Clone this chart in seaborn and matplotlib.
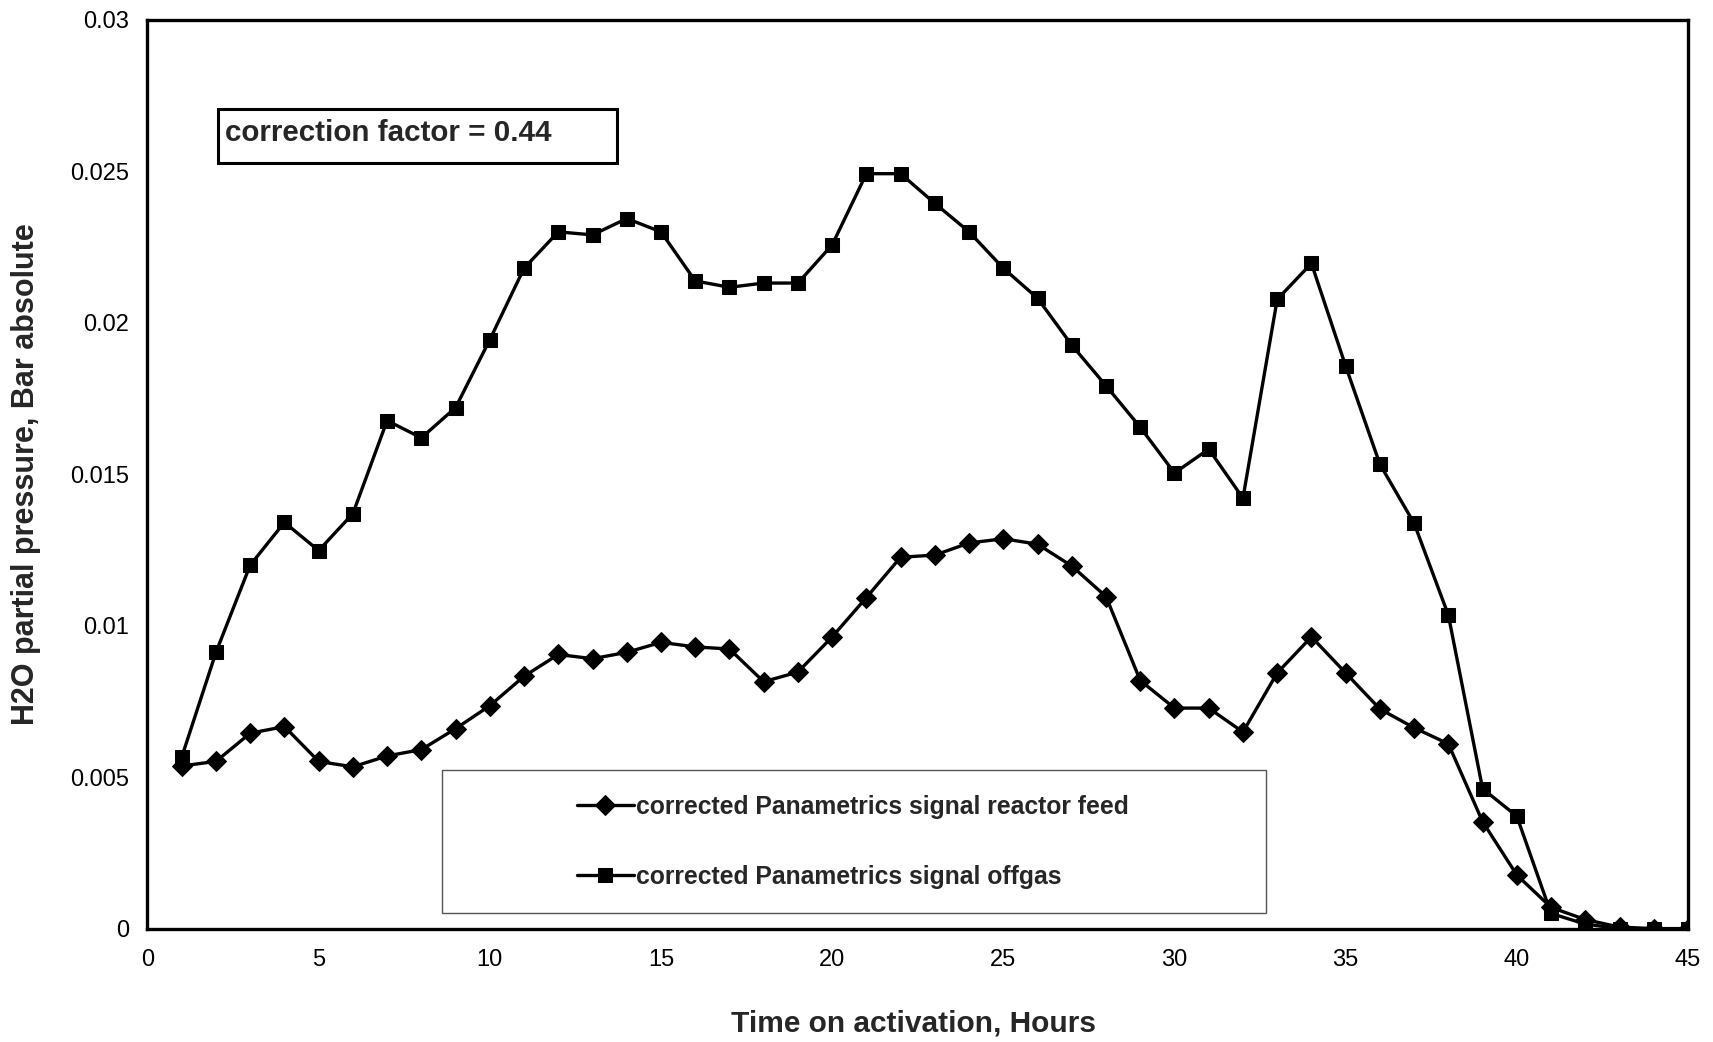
import numpy as np
import pandas as pd
import matplotlib
matplotlib.use("Agg")
import matplotlib.pyplot as plt
from matplotlib.patches import Rectangle
from matplotlib import font_manager as fm
import seaborn as sns

hours = list(range(1, 46))
feed = [0.00537, 0.00552, 0.00645, 0.00667, 0.00552, 0.00534, 0.00570, 0.00591, 0.00660, 0.00736,
        0.00833, 0.00905, 0.00891, 0.00912, 0.00945, 0.00930, 0.00923, 0.00815, 0.00847, 0.00963,
        0.01093, 0.01226, 0.01233, 0.01273, 0.01287, 0.01269, 0.01197, 0.01096, 0.00819, 0.00728,
        0.00728, 0.00649, 0.00844, 0.00963, 0.00844, 0.00725, 0.00663, 0.00610, 0.00353, 0.00177,
        0.00070, 0.00030, 0.00005, 0.00000, 0.00000]
offgas = [0.00566, 0.00912, 0.01200, 0.01341, 0.01248, 0.01370, 0.01677, 0.01620, 0.01720, 0.01944,
          0.02180, 0.02300, 0.02290, 0.02344, 0.02300, 0.02138, 0.02117, 0.02131, 0.02131, 0.02257,
          0.02492, 0.02492, 0.02394, 0.02300, 0.02180, 0.02081, 0.01926, 0.01792, 0.01655, 0.01504,
          0.01583, 0.01421, 0.02077, 0.02196, 0.01857, 0.01533, 0.01338, 0.01035, 0.00462, 0.00371,
          0.00050, 0.00015, 0.00000, 0.00000, 0.00000]
series_names = ["corrected Panametrics signal reactor feed", "corrected Panametrics signal offgas"]
x_ticks = [0, 5, 10, 15, 20, 25, 30, 35, 40, 45]
y_ticks = [0, 0.005, 0.01, 0.015, 0.02, 0.025, 0.03]
y_tick_labels = ["0", "0.005", "0.01", "0.015", "0.02", "0.025", "0.03"]
annotation = "correction factor = 0.44"

sns.set_style("white")
plt.rcParams["font.family"] = ["Liberation Sans", "DejaVu Sans"]

available = {f.name for f in fm.fontManager.ttflist}
if "Liberation Sans Narrow" in available:
    xtick_family, xtick_size = "Liberation Sans Narrow", 21
else:
    xtick_family, xtick_size = "Liberation Sans", 17

fig = plt.figure(figsize=(17.13, 10.42), dpi=100)
ax = fig.add_axes([0.0861, 0.1088, 0.8993, 0.8722])

df_feed = pd.DataFrame({"hour": hours, "value": feed})
df_off = pd.DataFrame({"hour": hours, "value": offgas})

sns.lineplot(data=df_feed, x="hour", y="value", ax=ax, color="black", marker="D",
             markersize=10, markeredgecolor="black", markerfacecolor="black",
             linewidth=2.4, errorbar=None, label=series_names[0])
sns.lineplot(data=df_off, x="hour", y="value", ax=ax, color="black", marker="s",
             markersize=10, markeredgecolor="black", markerfacecolor="black",
             linewidth=2.4, errorbar=None, label=series_names[1])

ax.set_xlim(0, 45)
ax.set_ylim(0, 0.03)
ax.set_xticks(x_ticks)
ax.set_xticklabels([str(t) for t in x_ticks], family=[xtick_family, "Liberation Sans"],
                   fontsize=xtick_size)
ax.set_yticks(y_ticks)
ax.set_yticklabels(y_tick_labels, fontsize=17)
ax.tick_params(axis="both", direction="inout", length=10, width=1, colors="black")
ax.tick_params(axis="x", pad=10)
ax.tick_params(axis="y", pad=8)

for s in ax.spines.values():
    s.set_visible(True)
    s.set_color("black")
    s.set_linewidth(2.4)

ax.set_xlabel("Time on activation, Hours", fontsize=21.5, fontweight="bold")
ax.set_ylabel("H2O partial pressure, Bar absolute", fontsize=22, fontweight="bold")
ax.xaxis.set_label_coords(0.497, -0.1045)
ax.xaxis.label.set_va("center")
ax.yaxis.set_label_coords(-0.079, 0.5)
ax.yaxis.label.set_va("center")

# annotation box
ax.add_patch(Rectangle((0.046, 0.8423), 0.259, 0.0594, transform=ax.transAxes,
                       fill=False, edgecolor="black", linewidth=2.2, zorder=5))
ax.text(0.050, 0.875, annotation, transform=ax.transAxes, fontsize=21.3,
        fontweight="bold", va="center", ha="left", zorder=6)

# legend box
ax.add_patch(Rectangle((0.191, 0.017), 0.535, 0.1575, transform=ax.transAxes,
                       facecolor="white", edgecolor="#555555", linewidth=1.0, zorder=4))
leg = ax.legend(loc="center left", bbox_to_anchor=(0.2788, 0.0953), frameon=False,
                prop={"weight": "bold", "size": 17.8}, handlelength=2.3,
                handletextpad=0.1, labelspacing=1.85, borderpad=0.0, borderaxespad=0.0)
leg.set_zorder(6)

fig.savefig("out.png", dpi=100)
